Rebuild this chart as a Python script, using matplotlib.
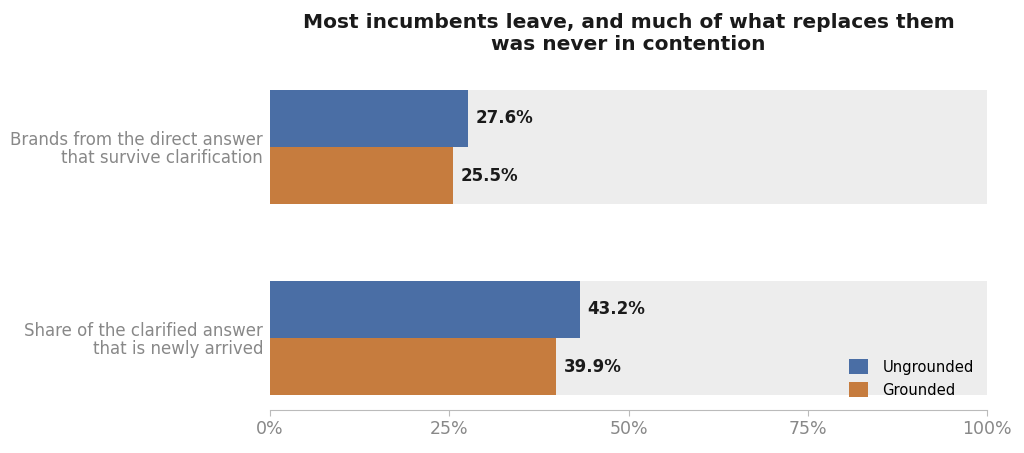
import matplotlib.pyplot as plt
import numpy as np

plt.rcParams["font.family"] = ["DejaVu Sans"]

categories = ["Brands from the direct answer\nthat survive clarification",
              "Share of the clarified answer\nthat is newly arrived"]
ungrounded = [27.6, 43.2]
grounded = [25.5, 39.9]
xticks = [0, 25, 50, 75, 100]

blue = "#4a6ea5"
orange = "#c67c3e"
gray = "#888888"

fig = plt.figure(figsize=(10.24, 4.53), dpi=100)
ax = fig.add_axes([0.2637, 0.0949, 0.7002, 0.7395])

y = np.arange(len(categories))
h = 0.3

ax.barh(y, [100] * len(categories), height=2 * h, color="#ededed", zorder=0)
ax.barh(y - h / 2, ungrounded, height=h, color=blue, label="Ungrounded", zorder=2)
ax.barh(y + h / 2, grounded, height=h, color=orange, label="Grounded", zorder=2)

for yy, v in zip(y - h / 2, ungrounded):
    ax.text(v + 1.1, yy, f"{v:.1f}%", va="center", ha="left",
            fontsize=12, fontweight="bold", color="#1a1a1a")
for yy, v in zip(y + h / 2, grounded):
    ax.text(v + 1.1, yy, f"{v:.1f}%", va="center", ha="left",
            fontsize=12, fontweight="bold", color="#1a1a1a")

ax.set_xlim(0, 100)
ax.set_ylim(1.377, -0.377)
ax.set_yticks(y)
ax.set_yticklabels(categories, fontsize=12, color=gray)
for lbl in ax.get_yticklabels():
    lbl.set_linespacing(1.0)
ax.set_xticks(xticks)
ax.set_xticklabels([f"{t}%" for t in xticks], fontsize=12.5, color=gray)
ax.tick_params(axis="y", length=0, pad=5)
ax.tick_params(axis="x", colors="#bbbbbb", labelcolor=gray, length=4)

for s in ["top", "right", "left"]:
    ax.spines[s].set_visible(False)
ax.spines["bottom"].set_color("#bbbbbb")

ax.set_title("Most incumbents leave, and much of what replaces them\nwas never in contention",
             fontsize=14.5, fontweight="bold", color="#1a1a1a", pad=18)

ax.legend(loc="lower right", frameon=False, fontsize=10.6, handlelength=1.25,
          handleheight=1.2, handletextpad=1.0, bbox_to_anchor=(1.0, -0.003))

fig.savefig("out.png", dpi=100)
